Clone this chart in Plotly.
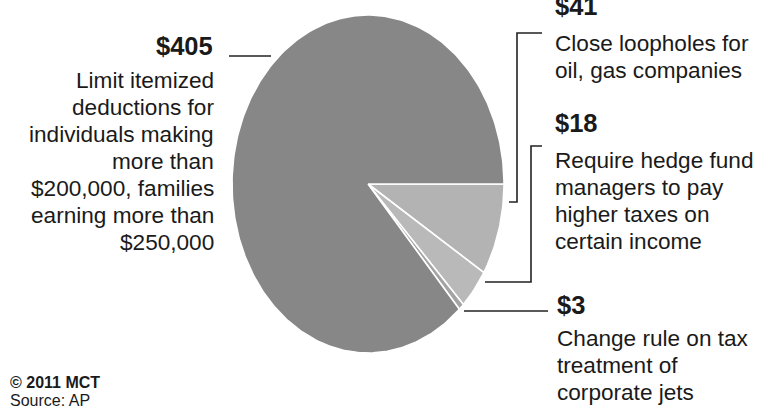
import math
import plotly.graph_objects as go

# ---- data ----
labels = ["$41", "$18", "$3", "$405"]
values = [41, 18, 3, 405]
slice_colors = ["#b3b3b3", "#b9b9b9", "#a4a4a4", "#878787"]

desc_405 = ["Limit itemized", "deductions for", "individuals making", "more than",
            "$200,000, families", "earning more than", "$250,000"]
desc_41 = ["Close loopholes for", "oil, gas companies"]
desc_18 = ["Require hedge fund", "managers to pay", "higher taxes on", "certain income"]
desc_3 = ["Change rule on tax", "treatment of", "corporate jets"]
credit = ["© 2011 MCT", "Source: AP"]

# ---- layout constants ----
W, H = 762, 413
CX, CY, RX, RY = 368, 184, 136, 169
BODY_FONT = "Liberation Sans, Arial, Helvetica, sans-serif"
BOLD_FONT = "Liberation Sans, Arial, Helvetica, sans-serif"
FS = 22.6
BFS = 25.5
LS = 27

fig = go.Figure()

total = sum(values)
start = 0.0
for lab, v, col in zip(labels, values, slice_colors):
    sweep = v / total * 2 * math.pi
    n = max(4, int(v / total * 360))
    xs, ys = [CX], [CY]
    for i in range(n + 1):
        t = start + sweep * i / n
        xs.append(CX + RX * math.cos(t))
        ys.append(CY + RY * math.sin(t))
    xs.append(CX)
    ys.append(CY)
    fig.add_trace(go.Scatter(x=xs, y=ys, fill="toself", fillcolor=col, mode="lines",
                             line=dict(color="white", width=1.6), hoverinfo="skip",
                             showlegend=False, name=lab))
    start += sweep

# leader lines
def seg(xs, ys):
    fig.add_trace(go.Scatter(x=xs, y=ys, mode="lines", line=dict(color="#222", width=1.6),
                             hoverinfo="skip", showlegend=False))

seg([229, 271], [56, 56])                      # $405
seg([542, 517, 517, 509], [33, 33, 202, 202])  # $41
seg([542, 531, 531, 485], [146, 146, 282, 282])  # $18
seg([464, 548], [311, 311])                    # $3

def txt(x, y, s, anchor="left", bold=False, size=FS, color="#1a1a1a"):
    fig.add_annotation(x=x, y=y, text=("<b>%s</b>" % s) if bold else s, showarrow=False,
                       xanchor=anchor, yanchor="middle",
                       font=dict(family=BOLD_FONT if bold else BODY_FONT, size=size, color=color))

# left block
txt(215, 46, labels[3], "right", bold=True, size=BFS)
for i, s in enumerate(desc_405):
    txt(216, 80 + i * LS, s, "right")

# right blocks
txt(553, 6, labels[0], bold=True, size=BFS)
for i, s in enumerate(desc_41):
    txt(553, 43 + i * LS, s)
txt(553, 123, labels[1], bold=True, size=BFS)
for i, s in enumerate(desc_18):
    txt(553, 160 + i * LS, s)
txt(555, 305, labels[2], bold=True, size=BFS)
for i, s in enumerate(desc_3):
    txt(555, 338 + i * LS, s)

# credit
txt(8, 382, credit[0], bold=True, size=16)
txt(8, 400, credit[1], size=16)

fig.update_layout(width=W, height=H, margin=dict(l=0, r=0, t=0, b=0),
                  paper_bgcolor="white", plot_bgcolor="white",
                  xaxis=dict(range=[0, W], visible=False, fixedrange=True),
                  yaxis=dict(range=[H, 0], visible=False, fixedrange=True))

fig.write_html("out.html")
